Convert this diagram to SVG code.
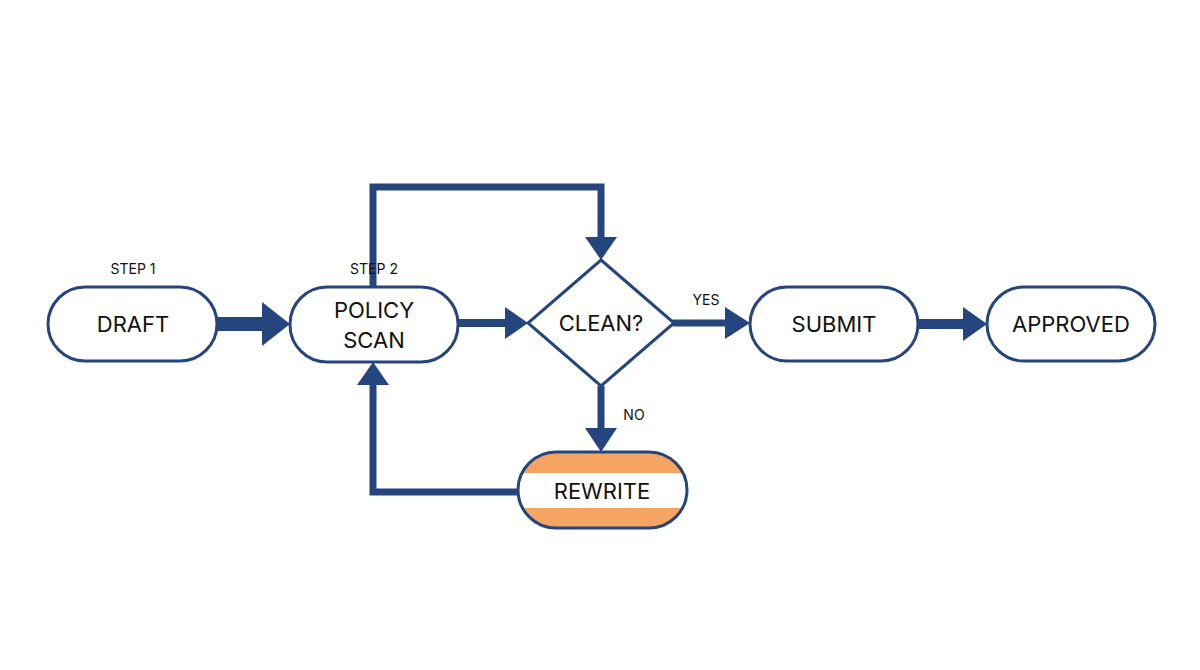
<svg xmlns="http://www.w3.org/2000/svg" width="1200" height="670" viewBox="0 0 1200 670">
<style>
.n{fill:#fff;stroke:#25457f;stroke-width:3}
.t{font-family:"Inter","Liberation Sans",sans-serif;font-size:22px;fill:#111;text-anchor:middle}
.s{font-family:"Inter","Liberation Sans",sans-serif;font-size:14px;fill:#111;text-anchor:middle}
.c{fill:none;stroke:#25457f}
.h{fill:#25457f}
</style>
<rect width="1200" height="670" fill="#fff"/>
<g id="connectors">
<line class="c" x1="217" y1="324" x2="264" y2="324" stroke-width="14"/>
<polygon class="h" points="262,302 290,324 262,346"/>
<line class="c" x1="458" y1="323" x2="507" y2="323" stroke-width="8"/>
<polygon class="h" points="505,307 528,323 505,339"/>
<polyline class="c" points="373,287 373,187 601,187 601,240" stroke-width="7"/>
<polygon class="h" points="585,237 601,260 617,237"/>
<polyline class="c" points="518,492 373,492 373,383" stroke-width="7"/>
<polygon class="h" points="357,385 373,362 389,385"/>
<line class="c" x1="601" y1="386" x2="601" y2="430" stroke-width="7"/>
<polygon class="h" points="585,428 601,452 617,428"/>
<line class="c" x1="673" y1="323" x2="727" y2="323" stroke-width="7"/>
<polygon class="h" points="725,307 750,323 725,339"/>
<line class="c" x1="918" y1="324" x2="965" y2="324" stroke-width="10"/>
<polygon class="h" points="963,307 987,324 963,341"/>
<text class="s" x="706" y="305">YES</text>
<text class="s" x="634" y="420">NO</text>
</g>
<g id="draft"><rect class="n" x="48" y="287" width="169" height="74" rx="37"/><text class="t" x="133" y="332">DRAFT</text><text class="s" x="133" y="274">STEP 1</text></g>
<g id="policy"><rect class="n" x="290" y="287" width="168" height="75" rx="37"/><text class="t" x="374" y="318">POLICY</text><text class="t" x="374" y="348">SCAN</text><text class="s" x="374" y="274">STEP 2</text></g>
<g id="clean"><polygon class="n" points="601,260 674,323 601,386 528,323"/><text class="t" x="601" y="331">CLEAN?</text></g>
<g id="submit"><rect class="n" x="750" y="287" width="168" height="74" rx="37"/><text class="t" x="834" y="332">SUBMIT</text></g>
<g id="approved"><rect class="n" x="987" y="287" width="168" height="74" rx="37"/><text class="t" x="1071" y="332">APPROVED</text></g>
<g id="rewrite">
<clipPath id="rc"><rect x="518" y="452" width="169" height="76" rx="38"/></clipPath>
<g clip-path="url(#rc)"><rect x="518" y="452" width="169" height="76" fill="#f6a461"/><rect x="518" y="473" width="169" height="35" fill="#fff"/></g>
<rect x="518" y="452" width="169" height="76" rx="38" fill="none" stroke="#25457f" stroke-width="3"/>
<text class="t" x="602" y="499">REWRITE</text></g>
</svg>
